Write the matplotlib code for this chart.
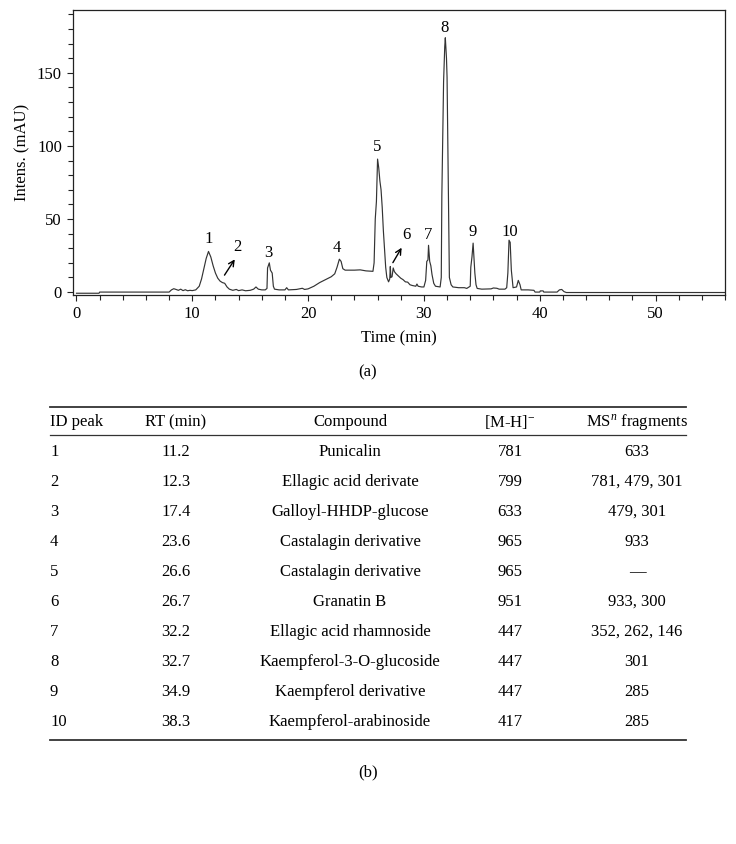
import matplotlib
matplotlib.use('Agg')
import matplotlib.pyplot as plt
from matplotlib.lines import Line2D
from matplotlib.ticker import MultipleLocator

plt.rcParams['font.family'] = ['Liberation Serif', 'DejaVu Serif']
plt.rcParams['mathtext.fontset'] = 'custom'
plt.rcParams['mathtext.rm'] = 'Liberation Serif'
plt.rcParams['mathtext.it'] = 'Liberation Serif:italic'

# chromatogram (time in min, intensity in mAU)
time_min = [0.0, 1.95, 2.0, 8.0, 8.2, 8.4, 8.6, 8.8, 9.0, 9.2, 9.4, 9.6, 9.8, 10.0, 10.3,
            10.6, 10.8, 11.0, 11.2, 11.4, 11.6, 11.8, 12.0, 12.2, 12.4, 12.6, 12.8, 13.0,
            13.2, 13.5, 13.8, 14.0, 14.3, 14.6, 15.0, 15.3, 15.5, 15.7, 16.0, 16.3, 16.45,
            16.5, 16.65, 16.75, 16.9, 17.0, 17.1, 17.5, 18.0, 18.15, 18.3, 19.0, 19.5, 19.7,
            20.0, 20.5, 21.0, 21.5, 22.0, 22.3, 22.5, 22.7, 22.85, 23.0, 23.2, 24.0, 24.5,
            25.0, 25.6, 25.7, 25.8, 25.9, 26.0, 26.1, 26.2, 26.3, 26.4, 26.5, 26.6, 26.7,
            26.8, 26.95, 27.05, 27.1, 27.15, 27.25, 27.35, 27.45, 27.6, 27.8, 28.0, 28.2,
            28.4, 28.6, 28.8, 29.0, 29.3, 29.4, 29.5, 29.8, 30.0, 30.15, 30.25, 30.35, 30.4,
            30.5, 30.6, 30.7, 30.85, 31.0, 31.4, 31.5, 31.55, 31.7, 31.8, 31.85, 31.95, 32.0,
            32.1, 32.2, 32.35, 32.5, 33.0, 33.5, 33.7, 34.0, 34.05, 34.15, 34.25, 34.3, 34.4,
            34.5, 34.6, 35.0, 35.8, 36.0, 36.3, 36.5, 37.0, 37.15, 37.25, 37.35, 37.45, 37.55,
            37.7, 38.0, 38.15, 38.3, 38.4, 39.0, 39.5, 39.6, 40.0, 40.05, 40.3, 40.35, 41.5,
            41.7, 41.9, 42.1, 42.3, 56.0]
intensity = [-0.8, -0.8, 0.0, 0.0, 1.5, 2.3, 1.8, 1.2, 2.0, 1.0, 1.6, 0.9, 1.2, 1.0, 1.5,
             4.0, 9.0, 16.0, 23.0, 27.8, 24.0, 18.0, 13.0, 9.5, 7.5, 6.5, 6.0, 3.5,
             2.0, 1.2, 1.8, 1.0, 1.5, 0.9, 1.2, 2.0, 3.5, 2.0, 1.5, 1.5, 2.5,
             16.5, 20.0, 15.0, 13.0, 4.0, 2.0, 1.5, 1.5, 3.0, 1.5, 1.8, 2.6, 1.8,
             2.2, 4.0, 6.5, 8.5, 10.5, 12.5, 17.0, 22.5, 21.0, 16.0, 15.0, 15.0, 15.2,
             14.5, 14.2, 20.0, 50.0, 62.0, 91.0, 85.0, 76.0, 70.0, 58.0, 42.0, 30.0, 17.0,
             10.0, 7.0, 9.0, 17.5, 10.0, 10.5, 16.5, 14.0, 12.5, 11.0, 9.5, 8.5,
             7.0, 6.8, 5.0, 4.5, 4.0, 5.5, 4.0, 3.5, 3.5, 8.0, 21.0, 22.0, 32.0,
             21.0, 18.0, 12.0, 6.0, 4.0, 3.5, 10.0, 66.0, 144.0, 168.0, 174.0, 160.0, 147.0,
             79.0, 10.0, 5.0, 3.5, 3.0, 3.0, 2.5, 4.0, 17.0, 24.0, 33.5, 27.0, 13.0,
             5.0, 2.5, 2.0, 2.2, 2.8, 2.6, 2.0, 2.0, 3.0, 13.0, 35.5, 34.0, 15.0,
             3.0, 3.5, 8.0, 5.0, 1.5, 1.5, 1.2, 0.0, 0.0, 0.8, 0.8, 0.0, 0.0,
             1.5, 1.8, 0.3, -0.3, -0.3]

peak_ids = ['1', '2', '3', '4', '5', '6', '7', '8', '9', '10']
label_t = [11.4, 13.9, 16.55, 22.5, 26.0, 28.5, 30.4, 31.8, 34.2, 37.4]
label_y = [36, 31, 27, 30, 99, 39, 39, 181, 41, 41]

# table (b)
tab_header = ['ID peak', 'RT (min)', 'Compound', '[M-H]$^{-}$', 'MS$^{\\it{n}}$ fragments']
tab_id = ['1', '2', '3', '4', '5', '6', '7', '8', '9', '10']
tab_rt = ['11.2', '12.3', '17.4', '23.6', '26.6', '26.7', '32.2', '32.7', '34.9', '38.3']
tab_compound = ['Punicalin', 'Ellagic acid derivate', 'Galloyl-HHDP-glucose',
                'Castalagin derivative', 'Castalagin derivative', 'Granatin B',
                'Ellagic acid rhamnoside', 'Kaempferol-3-O-glucoside',
                'Kaempferol derivative', 'Kaempferol-arabinoside']
tab_mh = ['781', '799', '633', '965', '965', '951', '447', '447', '447', '417']
tab_frag = ['633', '781, 479, 301', '479, 301', '933', '\u2014', '933, 300',
            '352, 262, 146', '301', '285', '285']

W, H = 736, 844
fig = plt.figure(figsize=(W / 100, H / 100), dpi=100)
ax = fig.add_axes([73 / W, 1 - 295 / H, (725 - 73) / W, (295 - 10) / H])

ax.plot(time_min, intensity, color='#333333', lw=0.85)
ax.set_xlim(-0.3, 56)
ax.set_ylim(-2, 193)
ax.xaxis.set_major_locator(MultipleLocator(10))
ax.xaxis.set_minor_locator(MultipleLocator(2))
ax.yaxis.set_major_locator(MultipleLocator(50))
ax.yaxis.set_minor_locator(MultipleLocator(10))
ax.tick_params(which='both', direction='out', labelsize=12, width=0.8, color='#222222')
ax.tick_params(which='major', length=4.5)
ax.tick_params(which='minor', length=3.5)
for s in ax.spines.values():
    s.set_linewidth(0.9)
    s.set_color('#222222')
ax.set_xlabel('Time (min)', fontsize=12, labelpad=6)
ax.set_ylabel('Intens. (mAU)', fontsize=12, labelpad=5)

for lab, t, y in zip(peak_ids, label_t, label_y):
    ax.text(t, y, lab, fontsize=12, ha='center', va='center')

# arrows pointing at the small peaks 2 and 6
ax.annotate('', xy=(13.8, 24), xytext=(12.65, 10),
            arrowprops=dict(arrowstyle='->', color='black', lw=1))
ax.annotate('', xy=(28.2, 32), xytext=(27.2, 18.5),
            arrowprops=dict(arrowstyle='->', color='black', lw=1))

fig.text(368 / W, 1 - 372 / H, '(a)', fontsize=12, ha='center', va='center')

def hline(y, lw):
    fig.add_artist(Line2D([50 / W, 686 / W], [1 - y / H, 1 - y / H], color='#333333', lw=lw))

hline(407, 1.3)
hline(435, 0.9)
hline(740, 1.3)

col_x = [50, 176, 350, 510, 637]
col_ha = ['left', 'center', 'center', 'center', 'center']
for x, ha, txt in zip(col_x, col_ha, tab_header):
    fig.text(x / W, 1 - 422 / H, txt, fontsize=12, ha=ha, va='center')

for i in range(len(tab_id)):
    y = 1 - (452 + 30 * i) / H
    row = [tab_id[i], tab_rt[i], tab_compound[i], tab_mh[i], tab_frag[i]]
    for x, ha, txt in zip(col_x, col_ha, row):
        fig.text(x / W, y, txt, fontsize=12, ha=ha, va='center')

fig.text(368 / W, 1 - 772 / H, '(b)', fontsize=12, ha='center', va='center')

fig.savefig('out.png', dpi=100)
